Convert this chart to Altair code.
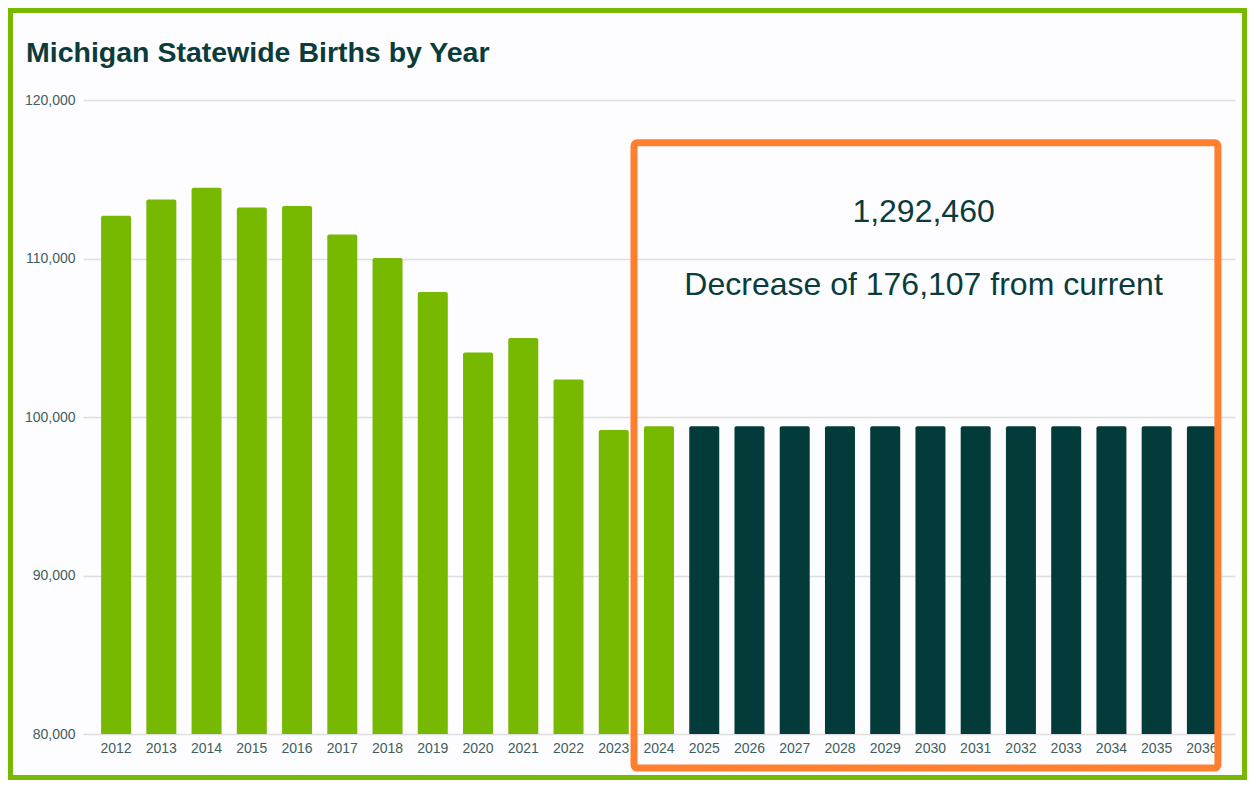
import altair as alt
import pandas as pd

# ---- data ----
years = ["2012", "2013", "2014", "2015", "2016", "2017", "2018", "2019", "2020",
         "2021", "2022", "2023", "2024", "2025", "2026", "2027", "2028", "2029",
         "2030", "2031", "2032", "2033", "2034", "2035", "2036"]
births = [112700, 113730, 114460, 113210, 113320, 111510, 110030, 107890, 104070,
          104980, 102370, 99180, 99420, 99420, 99420, 99420, 99420, 99420,
          99420, 99420, 99420, 99420, 99420, 99420, 99420]
kinds = ["Actual"] * 13 + ["Projected"] * 12

title_text = "Michigan Statewide Births by Year"
note_lines = ["1,292,460", "Decrease of 176,107 from current"]
note_values = [112300, 107680]
note_year = ["2030", "2030"]

box_start, box_end = "2024", "2036"
box_top, box_bottom = 117300, 77850

y_ticks = [80000, 90000, 100000, 110000, 120000]

GREEN = "#77b800"
DARK = "#033b3b"
ORANGE = "#ff7f2e"
TEXT = "#0b3c3c"
LABEL = "#3f5f5f"
BG = "#fdfcfe"
FONT = "Liberation Sans"

df = pd.DataFrame({"year": years, "births": births, "kind": kinds})
notes = pd.DataFrame({"year": note_year, "v": note_values, "t": note_lines})
box = pd.DataFrame({"a": [box_start], "b": [box_end], "top": [box_top], "bot": [box_bottom]})
one = pd.DataFrame({"t": [title_text]})

W, H = 1152, 634
PL, PT, PR, PB = 75, 92, 12, 46

x_scale = alt.Scale(domain=years, paddingInner=0.337, paddingOuter=0.4)
y_scale = alt.Scale(domain=[80000, 120000], zero=False, nice=False)

bars = alt.Chart(df).mark_bar(
    cornerRadiusTopLeft=2, cornerRadiusTopRight=2
).encode(
    x=alt.X("year:N", scale=x_scale,
            axis=alt.Axis(title=None, labelAngle=0, ticks=False, domain=False,
                          labelPadding=7, labelFontSize=14,
                          labelFont=FONT, labelColor=LABEL)),
    y=alt.Y("births:Q", scale=y_scale, stack=None,
            axis=alt.Axis(title=None, values=y_ticks, format=",d", ticks=False,
                          domain=False, labelPadding=8, labelFontSize=14,
                          labelFont=FONT, labelColor=LABEL, gridColor="#dedede",
                          gridWidth=1.5)),
    y2=alt.datum(80000),
    color=alt.Color("kind:N", scale=alt.Scale(domain=["Actual", "Projected"],
                                              range=[GREEN, DARK]), legend=None),
)

box_layer = alt.Chart(box).mark_rect(
    clip=False, filled=False, stroke=ORANGE, strokeWidth=7, cornerRadius=3,
    xOffset=-10, x2Offset=1
).encode(
    x=alt.X("a:N", bandPosition=0),
    x2=alt.X2("b:N", bandPosition=1),
    y=alt.Y("top:Q"),
    y2=alt.Y2("bot:Q"),
)

note_layer = alt.Chart(notes).mark_text(
    font=FONT, fontSize=32, color=TEXT, align="center", baseline="alphabetic"
).encode(
    x=alt.X("year:N", bandPosition=0.27),
    y=alt.Y("v:Q"),
    text="t:N",
)

title_layer = alt.Chart(one).mark_text(
    font=FONT, fontSize=28.5, fontWeight="bold", color=TEXT, align="left",
    baseline="alphabetic"
).encode(x=alt.value(-57), y=alt.value(-38), text="t:N")

frame = alt.Chart(one).mark_rect(
    clip=False, filled=False, stroke="#76b900", strokeWidth=5
).encode(
    x=alt.value(-PL + 2.5), x2=alt.value(W + PR - 2.5),
    y=alt.value(-PT + 2.5), y2=alt.value(H + PB - 2.5),
)

chart = alt.layer(bars, box_layer, note_layer, title_layer, frame).properties(
    width=W, height=H,
    autosize=alt.AutoSizeParams(type="none"),
    padding={"left": PL, "top": PT, "right": PR, "bottom": PB},
    background=BG,
).configure_view(stroke=None)

chart.save("out.html", embed_options={"renderer": "svg", "actions": False})
